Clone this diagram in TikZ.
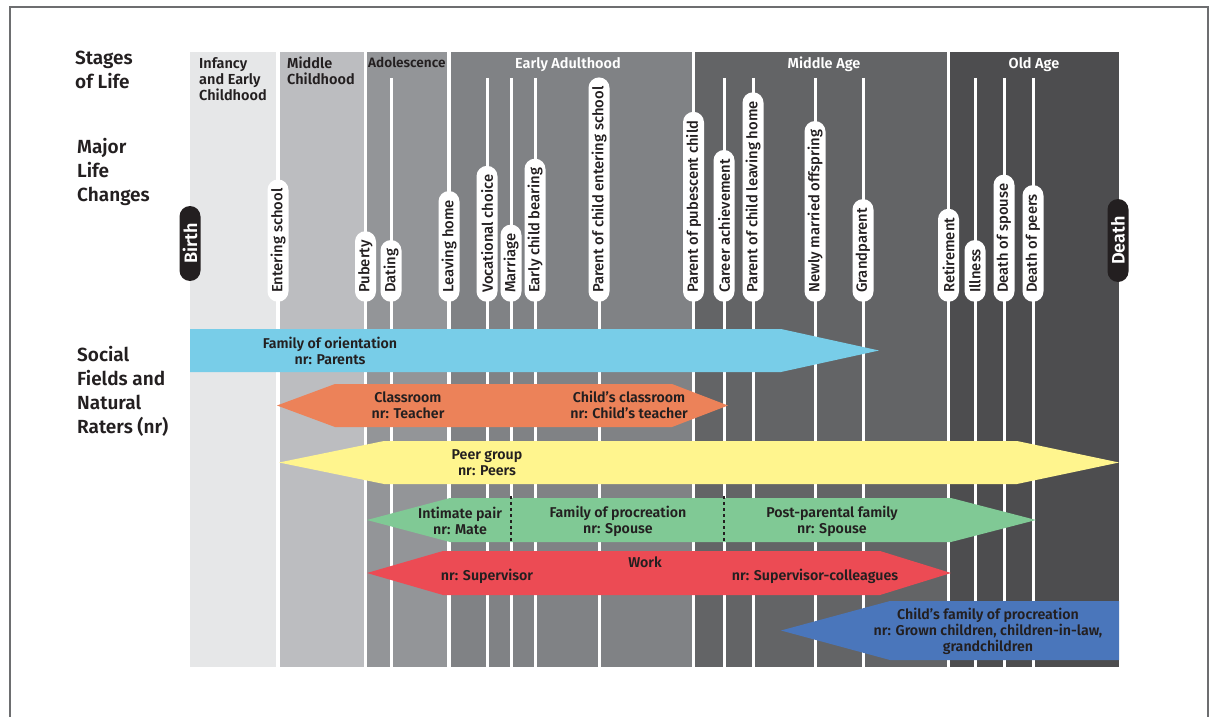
\documentclass[tikz,border=0pt]{standalone}
\usepackage{fontspec}
\setmainfont{Fira Sans}[BoldFont={Fira Sans SemiBold}]
\newfontfamily\eventfont{Fira Sans Medium}
\usetikzlibrary{positioning}

\definecolor{inkdark}{HTML}{231F20}
\definecolor{framegray}{HTML}{6D6E70}
\definecolor{stageA}{HTML}{E6E7E8}
\definecolor{stageB}{HTML}{BCBDC0}
\definecolor{stageC}{HTML}{939598}
\definecolor{stageD}{HTML}{808285}
\definecolor{stageE}{HTML}{636466}
\definecolor{stageF}{HTML}{4D4D4F}
\definecolor{orientblue}{HTML}{78CDE8}
\definecolor{classorange}{HTML}{EC8259}
\definecolor{peeryellow}{HTML}{FFF58E}
\definecolor{familygreen}{HTML}{80C995}
\definecolor{workred}{HTML}{EC4B54}
\definecolor{childblue}{HTML}{4A76BB}

\tikzset{
  rowlabel/.style={anchor=north west, inner sep=0, align=left,
    text=inkdark, font=\fontsize{19}{24}\selectfont\bfseries},
  stagehead/.style={inner sep=0, align=left,
    font=\fontsize{14.5}{16}\selectfont\bfseries},
  lifeevent/.style={rotate=90, anchor=west, fill=white, text=inkdark,
    rounded corners=10.5pt, minimum height=21pt, inner xsep=9pt, inner ysep=0pt,
    font=\fontsize{14.8}{16}\eventfont},
  endpoint/.style={rotate=90, fill=inkdark, text=white, rounded corners=10.5pt,
    minimum height=21pt, inner ysep=0pt, font=\fontsize{18}{20}\selectfont\bfseries},
  eventline/.style={white, line width=3pt},
  fieldtext/.style={inner sep=0, align=center, text=inkdark,
    font=\fontsize{14.2}{16}\selectfont\bfseries},
}

\begin{document}
\begin{tikzpicture}[x=1pt,y=-1pt]
    \useasboundingbox (0,0) rectangle (1216,717);

    % Frame
    \draw[framegray, line width=1.5pt] (10,7) rectangle (1208,740);

    % Stages of life
    \fill[stageA] (190,52) rectangle (276,667);
    \fill[stageB] (280,52) rectangle (364,667);
    \fill[stageC] (367,52) rectangle (447,667);
    \fill[stageD] (451,52) rectangle (692,667);
    \fill[stageE] (695,52) rectangle (947,667);
    \fill[stageF] (950,52) rectangle (1119,667);

    \node[stagehead, anchor=north west, text=inkdark] (infancy) at (199,57) {Infancy\\and Early\\Childhood};
    \node[stagehead, anchor=north west, text=inkdark] (midchild) at (287,57) {Middle\\Childhood};
    \node[stagehead, anchor=north west, text=inkdark, font=\fontsize{13.6}{16}\selectfont\bfseries] (adolescence) at (368,57.5) {Adolescence};
    \node[stagehead, anchor=north, text=white] (earlyadult) at (568,57) {Early Adulthood};
    \node[stagehead, anchor=north, text=white] (middleage) at (824,57) {Middle Age};
    \node[stagehead, anchor=north, text=white] (oldage) at (1034,57) {Old Age};

    % Row labels
    \node[rowlabel] (stageslbl) at (75,51) {Stages\\of Life};
    \node[rowlabel] (changeslbl) at (77,138) {Major\\Life\\Changes};
    \node[rowlabel] (fieldslbl) at (77,346) {Social\\Fields and\\Natural\\Raters (nr)};

    % Event lines
    \foreach \ex in {391,487,511,535,599,724,753,815,863,975,1004,1033}
      \draw[eventline] (\ex,78) -- (\ex,667);

    % Major life changes
    \node[endpoint, minimum width=75pt] (birth) at (190,243.5) {Birth};
    \node[lifeevent] (school) at (278,302) {Entering school};
    \node[lifeevent] (puberty) at (365.5,302) {Puberty};
    \node[lifeevent] (dating) at (391,302) {Dating};
    \node[lifeevent] (leaving) at (449,302) {Leaving home};
    \node[lifeevent] (vocation) at (487,302) {Vocational choice};
    \node[lifeevent] (marriage) at (511,302) {Marriage};
    \node[lifeevent] (bearing) at (535,302) {Early child bearing};
    \node[lifeevent] (childschool) at (599,302) {Parent of child entering school};
    \node[lifeevent] (pubescent) at (693.5,302) {Parent of pubescent child};
    \node[lifeevent] (career) at (724,302) {Career achievement};
    \node[lifeevent] (childleaving) at (753,302) {Parent of child leaving home};
    \node[lifeevent] (offspring) at (815,302) {Newly married offspring};
    \node[lifeevent] (grandparent) at (863,302) {Grandparent};
    \node[lifeevent] (retirement) at (948.5,302) {Retirement};
    \node[lifeevent] (illness) at (975,302) {Illness};
    \node[lifeevent] (spouse) at (1004,302) {Death of spouse};
    \node[lifeevent] (peersdeath) at (1033,302) {Death of peers};
    \node[endpoint, minimum width=83pt] (death) at (1118,240.5) {Death};

    % Social fields
    \fill[orientblue] (190,329) -- (781,329) -- (879,350.5) -- (781,372) -- (190,372) -- cycle;
    \fill[classorange] (277,405.5) -- (335,384) -- (672,384) -- (728,405.5) -- (672,427) -- (335,427) -- cycle;
    \fill[peeryellow] (279,462.5) -- (384,441) -- (1017,441) -- (1119,462.5) -- (1017,484) -- (384,484) -- cycle;
    \fill[familygreen] (367,520) -- (450,498) -- (951,498) -- (1036,520) -- (951,542) -- (450,542) -- cycle;
    \fill[workred] (367,573) -- (443,551) -- (880,551) -- (951,573) -- (880,595) -- (443,595) -- cycle;
    \fill[childblue] (781,630.5) -- (890,601) -- (1119,601) -- (1119,660) -- (890,660) -- cycle;

    \draw[inkdark, dashed, line width=1.2pt] (511,496) -- (511,542);
    \draw[inkdark, dashed, line width=1.2pt] (724,496) -- (724,542);

    \node[fieldtext] (orientation) at (330,351) {Family of orientation\\nr: Parents};
    \node[fieldtext] (classroom) at (408,405) {Classroom\\nr: Teacher};
    \node[fieldtext] (childclass) at (629,405) {Child’s classroom\\nr: Child’s teacher};
    \node[fieldtext] (peergroup) at (487,463) {Peer group\\nr: Peers};
    \node[fieldtext] (intimate) at (460,521) {Intimate pair\\nr: Mate};
    \node[fieldtext] (procreation) at (618,521) {Family of procreation\\nr: Spouse};
    \node[fieldtext] (postparental) at (832,521) {Post-parental family\\nr: Spouse};
    \node[fieldtext] (work) at (645,562) {Work};
    \node[fieldtext] (supervisor) at (487,576) {nr: Supervisor};
    \node[fieldtext] (colleagues) at (815,576) {nr: Supervisor-colleagues};
    \node[fieldtext] (childfamily) at (988,631) {Child’s family of procreation\\nr: Grown children, children-in-law,\\grandchildren};
\end{tikzpicture}
\end{document}
